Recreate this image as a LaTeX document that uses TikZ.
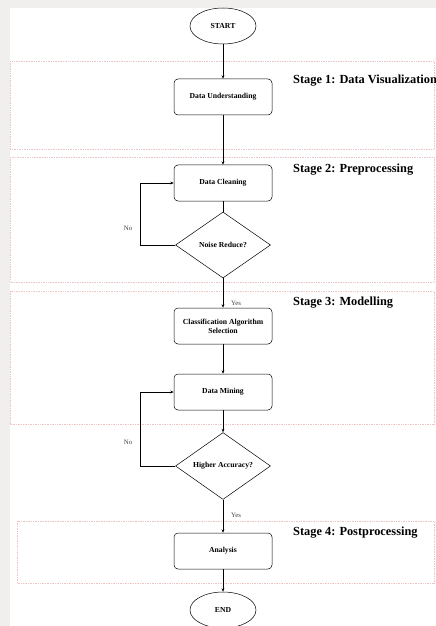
\documentclass[tikz,border=0pt]{standalone}
\usepackage{fontspec}
\setmainfont{Liberation Serif}
\usetikzlibrary{shapes.geometric,arrows.meta}
\definecolor{stageline}{RGB}{238,196,196}
\definecolor{pagegray}{RGB}{241,239,237}
\begin{document}
\begin{tikzpicture}[x=1bp,y=-1bp,
  every node/.style={font=\fontsize{7.7}{9}\selectfont\bfseries},
  proc/.style={draw,rounded corners=4bp,minimum width=98bp,minimum height=36bp,align=center,line width=0.5bp},
  term/.style={draw,ellipse,minimum width=66bp,minimum height=36bp,line width=0.5bp},
  decide/.style={draw,diamond,minimum width=95bp,minimum height=66bp,inner sep=0pt,line width=0.5bp},
  stagebox/.style={draw=stageline,densely dotted,line width=0.7bp},
  stagelabel/.style={anchor=west,inner sep=0pt,font=\fontsize{12.4}{14}\selectfont\bfseries},
  edgelabel/.style={inner sep=0pt,font=\fontsize{6.8}{8}\selectfont\mdseries,text=black!75},
  flow/.style={line width=0.5bp,-{Stealth[length=3.5bp,width=2.8bp]}}]
  \useasboundingbox (0,0) rectangle (436,626);
  \fill[pagegray] (0,0) rectangle (436,626);
  \fill[white] (10,8) rectangle (436,626);
  % stages
  \draw[stagebox] (10,61) rectangle (434,149);
  \draw[stagebox] (10,157) rectangle (434,282);
  \draw[stagebox] (10,291) rectangle (434,424);
  \draw[stagebox] (17,521) rectangle (434,583);
  \node[stagelabel] (stage1) at (293,81) {Stage 1: Data Visualization};
  \node[stagelabel] (stage2) at (293,170) {Stage 2: Preprocessing};
  \node[stagelabel] (stage3) at (293,303) {Stage 3: Modelling};
  \node[stagelabel] (stage4) at (293,533) {Stage 4: Postprocessing};
  % flow
  \node[term] (start) at (223,26) {START};
  \node[proc] (under) at (223,97) {Data Understanding};
  \node[proc] (clean) at (223,183) {Data Cleaning};
  \node[decide] (noise) at (223,245) {Noise Reduce?};
  \node[proc] (classif) at (223,326) {Classification Algorithm\\Selection};
  \node[proc] (mining) at (223,392) {Data Mining};
  \node[decide] (accur) at (223,466) {Higher Accuracy?};
  \node[proc] (analysis) at (223,551) {Analysis};
  \node[term] (finish) at (223,610) {END};
  \draw[flow] (start) -- (under);
  \draw[flow] (under) -- (clean);
  \draw[line width=0.5bp] (clean) -- (noise);
  \draw[flow] (noise) -- (classif);
  \draw[flow] (classif) -- (mining);
  \draw[flow] (mining) -- (accur);
  \draw[flow] (accur) -- (analysis);
  \draw[flow] (analysis) -- (finish);
  \draw[flow] (noise.west) -- ++(-35,0) |- (clean.west);
  \draw[flow] (accur.west) -- ++(-35,0) |- (mining.west);
  \node[edgelabel] (no1) at (128,228) {No};
  \node[edgelabel] (no2) at (128,442) {No};
  \node[edgelabel] (yes1) at (236,303) {Yes};
  \node[edgelabel] (yes2) at (236,515) {Yes};
\end{tikzpicture}
\end{document}
